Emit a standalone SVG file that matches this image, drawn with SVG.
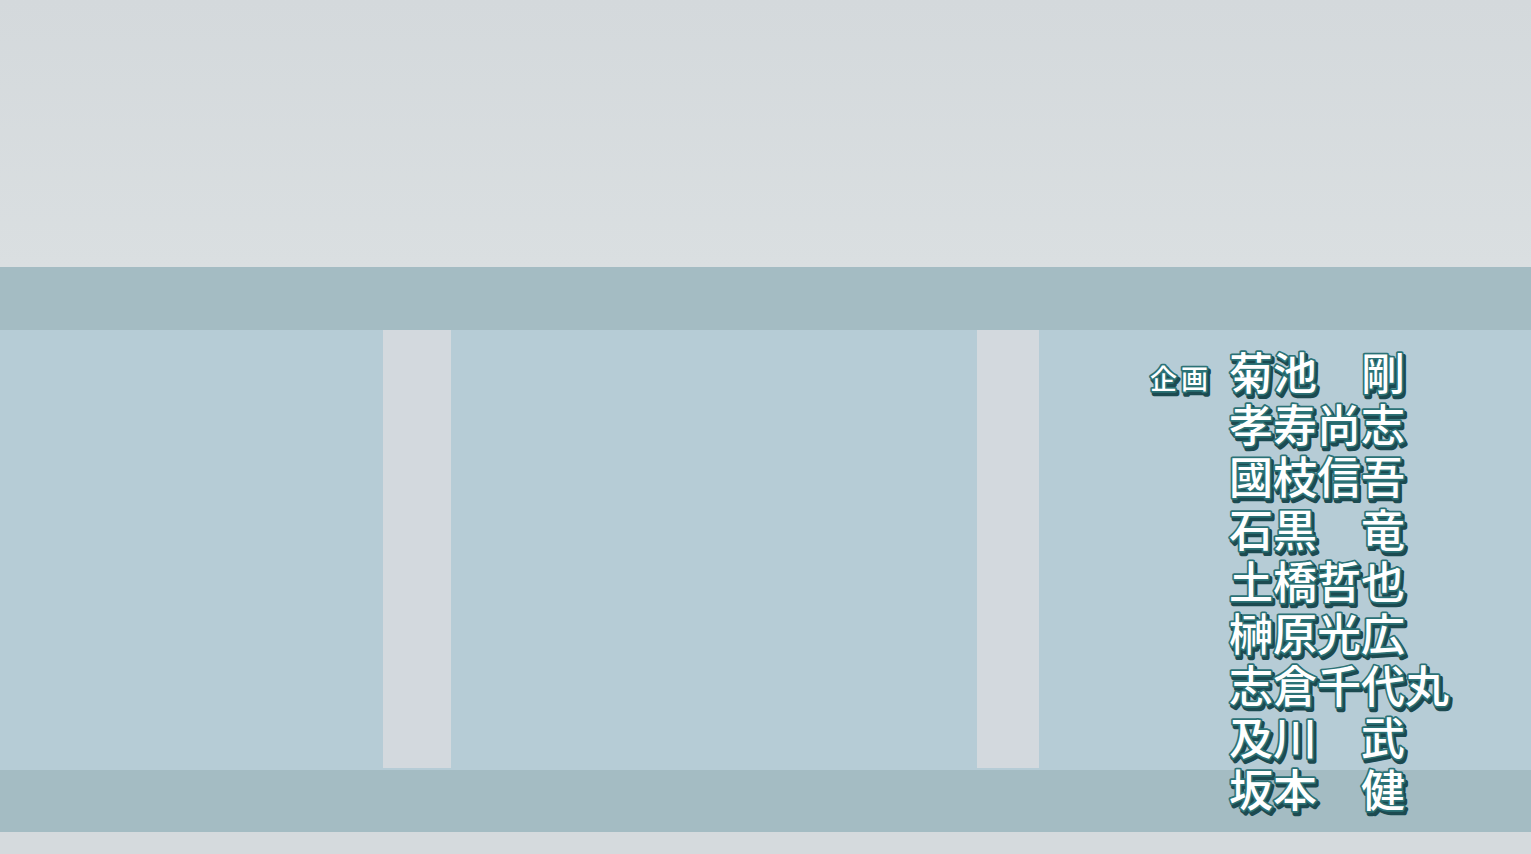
<svg xmlns="http://www.w3.org/2000/svg" width="1531" height="854" viewBox="0 0 1531 854">
<style>
.t{font-family:"Noto Sans CJK JP","Noto Sans CJK SC",sans-serif;font-weight:500;font-size:44px}
.sh{fill:#1c4a50;stroke:#1c4a50;stroke-width:4.5;stroke-linejoin:round}
.fg{fill:#ffffff;stroke:#2b7276;stroke-width:3.5;stroke-linejoin:round;paint-order:stroke}
.s{font-size:27px;letter-spacing:4px}
</style>
<defs>
<linearGradient id="sky" x1="0" y1="0" x2="0" y2="1">
<stop offset="0" stop-color="#d4d9dc"/>
<stop offset="1" stop-color="#dadfe1"/>
</linearGradient>
<g id="credits">
<text class="t s" x="1150" y="389">企画</text>
<text class="t" x="1229" y="390">菊池　剛</text>
<text class="t" x="1229" y="442">孝寿尚志</text>
<text class="t" x="1229" y="494">國枝信吾</text>
<text class="t" x="1229" y="547">石黒　竜</text>
<text class="t" x="1229" y="599">土橋哲也</text>
<text class="t" x="1229" y="651">榊原光広</text>
<text class="t" x="1229" y="703">志倉千代丸</text>
<text class="t" x="1229" y="755">及川　武</text>
<text class="t" x="1229" y="807">坂本　健</text>
</g>
</defs>
<g id="background">
<rect x="0" y="0" width="1531" height="267" fill="url(#sky)"/>
<rect x="0" y="267" width="1531" height="63" fill="#a4bcc3"/>
<rect x="0" y="330" width="1531" height="440" fill="#b6ccd6"/>
<rect x="383" y="330" width="68" height="438" fill="#d3d9de"/>
<rect x="977" y="330" width="62" height="438" fill="#d3d9de"/>
<rect x="0" y="770" width="1531" height="62" fill="#a4bcc3"/>
<rect x="0" y="832" width="1531" height="22" fill="#d5dadd"/>
</g>
<g id="credits-shadow" class="sh" transform="translate(2,3)"><use href="#credits"/></g>
<g id="credits-text" class="fg"><use href="#credits"/></g>
</svg>
